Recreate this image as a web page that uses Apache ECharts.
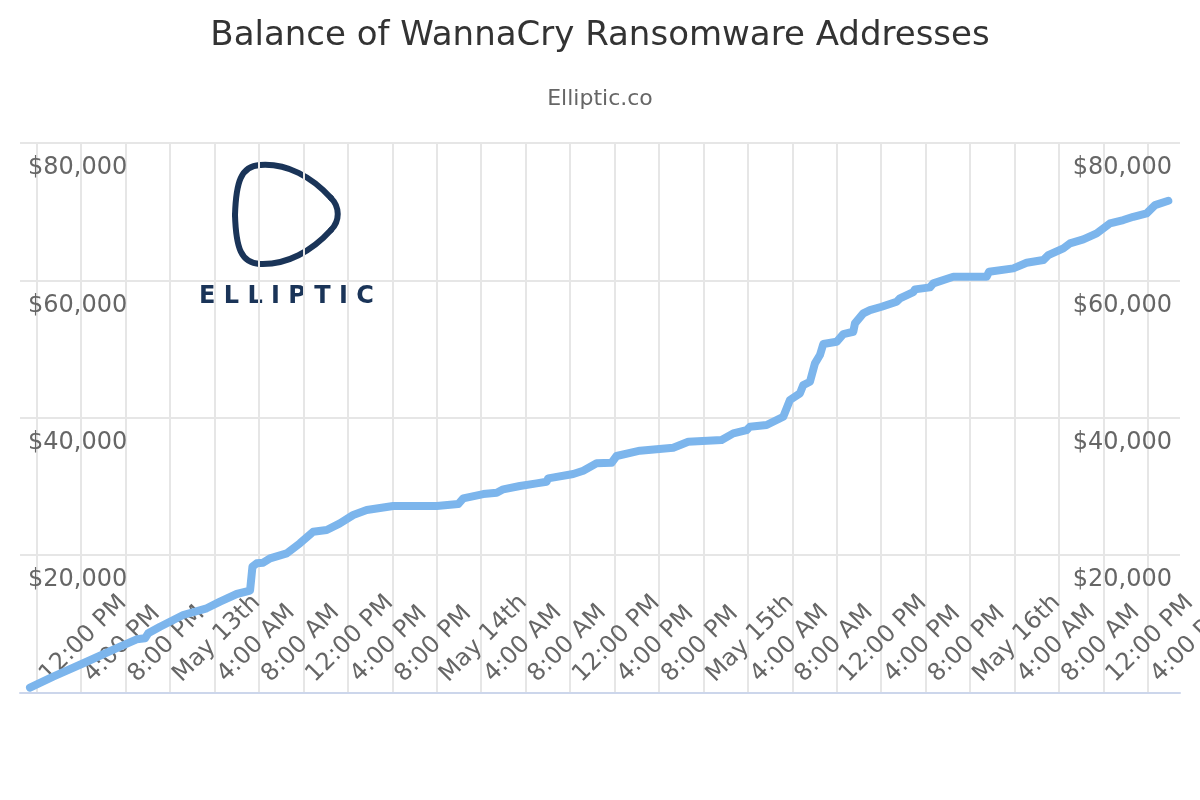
<!DOCTYPE html>
<html>
<head>
<meta charset="utf-8">
<script src="https://cdn.jsdelivr.net/npm/echarts@6/dist/echarts.min.js"></script>
<style>html,body{margin:0;padding:0;background:#fff;}#chart{width:1200px;height:800px;}</style>
</head>
<body>
<div id="chart"></div>
<script>
const titleText = 'Balance of WannaCry Ransomware Addresses';
const subtitleText = 'Elliptic.co';
const logoText = 'E L L I P T I C';

const times = [
  '2017-05-12 11:24','2017-05-12 13:29','2017-05-12 16:30','2017-05-12 19:30','2017-05-12 21:00',
  '2017-05-12 21:45','2017-05-12 22:02','2017-05-12 23:06','2017-05-13 01:11','2017-05-13 03:18',
  '2017-05-13 04:30','2017-05-13 06:00','2017-05-13 07:12','2017-05-13 07:25','2017-05-13 07:48',
  '2017-05-13 08:23','2017-05-13 09:00','2017-05-13 10:30','2017-05-13 11:41','2017-05-13 12:53',
  '2017-05-13 14:06','2017-05-13 15:17','2017-05-13 16:29','2017-05-13 17:42','2017-05-13 20:05',
  '2017-05-14 00:00','2017-05-14 01:56','2017-05-14 02:23','2017-05-14 04:11','2017-05-14 05:24',
  '2017-05-14 05:59','2017-05-14 07:29','2017-05-14 08:59','2017-05-14 09:53','2017-05-14 10:02',
  '2017-05-14 12:17','2017-05-14 13:11','2017-05-14 14:23','2017-05-14 15:44','2017-05-14 16:11',
  '2017-05-14 18:17','2017-05-14 21:17','2017-05-14 22:38','2017-05-15 01:38','2017-05-15 02:41',
  '2017-05-15 03:53','2017-05-15 04:11','2017-05-15 05:41','2017-05-15 07:11','2017-05-15 07:47',
  '2017-05-15 08:41','2017-05-15 08:59','2017-05-15 09:35','2017-05-15 10:02','2017-05-15 10:29',
  '2017-05-15 10:47','2017-05-15 11:59','2017-05-15 12:35','2017-05-15 13:29','2017-05-15 13:38',
  '2017-05-15 14:23','2017-05-15 14:59','2017-05-15 16:02','2017-05-15 17:23','2017-05-15 17:41',
  '2017-05-15 18:53','2017-05-15 19:02','2017-05-15 20:23','2017-05-15 20:41','2017-05-15 22:29',
  '2017-05-16 01:29','2017-05-16 01:42','2017-05-16 03:53','2017-05-16 05:05','2017-05-16 06:35',
  '2017-05-16 07:02','2017-05-16 08:23','2017-05-16 08:59','2017-05-16 10:11','2017-05-16 11:23',
  '2017-05-16 12:35','2017-05-16 13:47','2017-05-16 14:41','2017-05-16 15:53','2017-05-16 16:38',
  '2017-05-16 17:50'
];
const balances = [
  700, 2300, 4480, 6670, 7740,
  7890, 8620, 9580, 11280, 12260,
  13220, 14340, 14820, 18310, 18810,
  18900, 19530, 20260, 21720, 23410,
  23650, 24630, 25840, 26570, 27150,
  27150, 27440, 28270, 28890, 29080,
  29580, 30060, 30450, 30680, 31180,
  31810, 32290, 33360, 33450, 34430,
  35200, 35630, 36510, 36750, 37730,
  38210, 38690, 38940, 40150, 42580,
  43550, 44760, 45240, 47920, 49130,
  50730, 51060, 52180, 52520, 53740,
  55200, 55680, 56160, 56890, 57380,
  58300, 58690, 58980, 59560, 60520,
  60520, 61250, 61750, 62560, 62960,
  63680, 64660, 65390, 65970, 66840,
  68300, 68780, 69260, 69750, 70960,
  71590
];

const firstTick = '2017-05-12 12:00';
const tickLabels = [
  '12:00 PM','4:00 PM','8:00 PM','May 13th','4:00 AM','8:00 AM','12:00 PM','4:00 PM','8:00 PM',
  'May 14th','4:00 AM','8:00 AM','12:00 PM','4:00 PM','8:00 PM',
  'May 15th','4:00 AM','8:00 AM','12:00 PM','4:00 PM','8:00 PM',
  'May 16th','4:00 AM','8:00 AM','12:00 PM','4:00 PM'
];
const xMin = '2017-05-12 10:30';
const xMax = '2017-05-16 18:53';
const yTicks = [0, 20000, 40000, 60000, 80000];

const H4 = 4 * 3600 * 1000;
function parseT(s) {
  const p = s.split(/[- :]/).map(Number);
  return new Date(p[0], p[1] - 1, p[2], p[3], p[4]).getTime();
}
const t0 = parseT(firstTick);
const seriesData = times.map((t, i) => [parseT(t), balances[i]]);

function xFmt(v) {
  const k = (v - t0) / H4;
  const idx = Math.round(k);
  if (Math.abs(k - idx) > 1e-6 || idx < 0 || idx >= tickLabels.length) return '';
  return tickLabels[idx];
}
function yFmt(v) {
  return '$' + v.toLocaleString('en-US');
}

// Logo outline: cubic segments [x1,y1,cpx1,cpy1,cpx2,cpy2,x2,y2]
const logoCurves = [
  [260,165, 287,163, 312,177, 331,198],
  [331,198, 340,207, 340,221, 331,230],
  [331,230, 312,251, 287,265, 260,264],
  [260,264, 241,263, 236,248, 235,215],
  [235,215, 236,182, 241,166, 260,165]
];

const FONT = 'DejaVu Sans';
const chart = echarts.init(document.getElementById('chart'));
const yCommon = {
  type: 'value', min: yTicks[0], max: yTicks[yTicks.length - 1], interval: yTicks[1] - yTicks[0],
  z: 3,
  axisLine: { show: false }, axisTick: { show: false },
  splitLine: { show: true, lineStyle: { color: '#e6e6e6', width: 2 } }
};
const graphicEls = logoCurves.map(c => ({
  type: 'bezierCurve', z: -1, silent: true,
  shape: { x1: c[0], y1: c[1], cpx1: c[2], cpy1: c[3], cpx2: c[4], cpy2: c[5], x2: c[6], y2: c[7] },
  style: { fill: null, stroke: '#1a3458', lineWidth: 6, lineCap: 'round' }
}));
graphicEls.push({ type: 'text', z: -1, left: 199, top: 285,
  style: { text: logoText, font: 'bold 24px "DejaVu Sans"', fill: '#1a3458' } });

chart.setOption({
  animation: false,
  backgroundColor: '#ffffff',
  title: [
    { text: titleText, left: 'center', top: 14,
      textStyle: { fontFamily: FONT, fontSize: 34, fontWeight: 'normal', color: '#333333' } },
    { text: subtitleText, left: 'center', top: 83,
      textStyle: { fontFamily: FONT, fontSize: 22, fontWeight: 'normal', color: '#666666' } }
  ],
  grid: { left: 20, right: 20, top: 143, bottom: 107.5, containLabel: false, outerBoundsMode: 'none' },
  xAxis: {
    type: 'time', min: parseT(xMin), max: parseT(xMax),
    minInterval: H4, maxInterval: H4, splitNumber: 26,
    z: 3,
    axisLine: { show: true, lineStyle: { color: '#ccd6eb', width: 2 } },
    axisTick: { show: false },
    splitLine: { show: true, showMinLine: false, showMaxLine: false, lineStyle: { color: '#e6e6e6', width: 2 } },
    axisLabel: {
      inside: true, rotate: 45, margin: 7, padding: [0, 0, 0, 10], showMinLabel: false, showMaxLabel: false,
      hideOverlap: false,
      fontFamily: FONT, fontSize: 24, color: '#666666',
      formatter: xFmt
    }
  },
  yAxis: [
    Object.assign({}, yCommon, {
      position: 'left',
      axisLabel: { inside: true, margin: 8, showMinLabel: false, verticalAlign: 'top', padding: [13, 0, 0, 0],
        fontFamily: FONT, fontSize: 24, color: '#666666', formatter: yFmt }
    }),
    Object.assign({}, yCommon, {
      position: 'right',
      axisLabel: { inside: true, margin: 8, showMinLabel: false, verticalAlign: 'top', padding: [13, 0, 0, 0],
        fontFamily: FONT, fontSize: 24, color: '#666666', formatter: yFmt }
    })
  ],
  graphic: { elements: graphicEls },
  series: [{
    type: 'line', yAxisIndex: 0, z: 4,
    data: seriesData, showSymbol: false, smooth: false,
    lineStyle: { color: '#7cb5ec', width: 8, cap: 'round', join: 'round' }
  }]
});
</script>
</body>
</html>
